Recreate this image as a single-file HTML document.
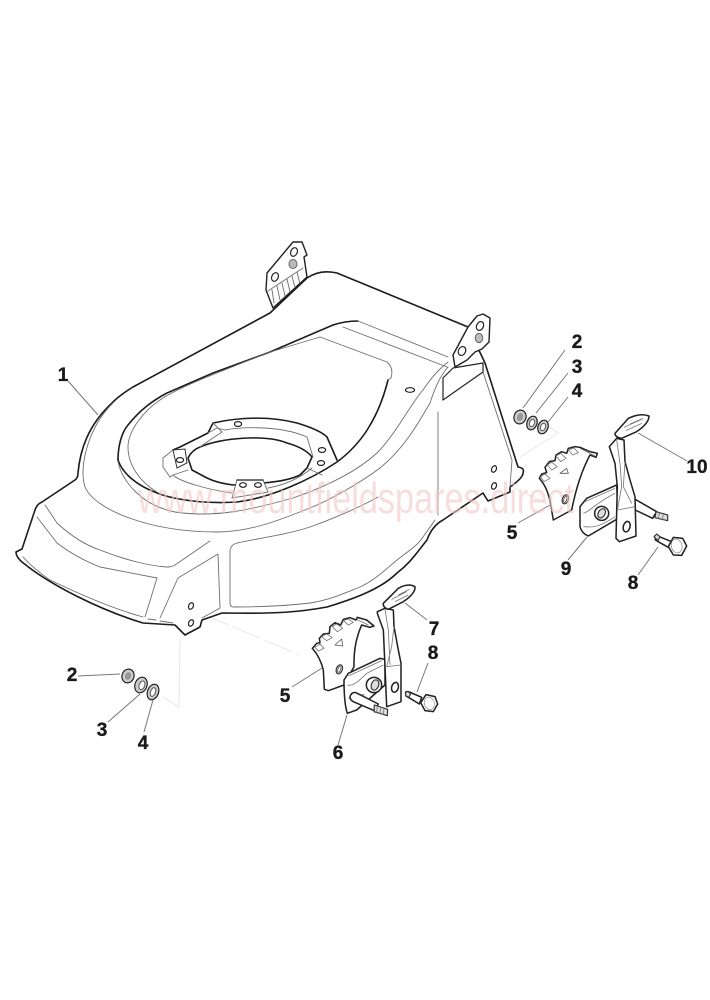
<!DOCTYPE html>
<html><head><meta charset="utf-8"><style>
html,body{margin:0;padding:0;background:#fff;width:710px;height:1000px;overflow:hidden}
svg{display:block}
.art{filter:blur(.35px)}
.k{fill:none;stroke:#1c1c1c;stroke-width:1.6;stroke-linejoin:round;stroke-linecap:round}
.t{fill:none;stroke:#6e6e6e;stroke-width:.9;stroke-linejoin:round;stroke-linecap:round}
.l{fill:none;stroke:#777;stroke-width:1}
.g{fill:none;stroke:#e6e6e6;stroke-width:1}
.p path,.p circle,.p ellipse,.p polygon{stroke:#222;stroke-width:4.6;fill:#fff;stroke-linejoin:round}
.p .i{stroke:#777;stroke-width:2.5;fill:none}
.p .f{fill:#ddd;stroke:#333;stroke-width:3.5}
.n{font:bold 19px "Liberation Sans",sans-serif;fill:#1a1a1a;text-anchor:middle;stroke:#1a1a1a;stroke-width:.35}
.w{fill:#fff;stroke:#222;stroke-width:1.2}
</style></head><body>
<svg width="710" height="1000" viewBox="0 0 710 1000" xmlns="http://www.w3.org/2000/svg">
<rect width="710" height="1000" fill="#fff"/>
<g class="art">
<!-- ghost lines -->
<path class="g" d="M180,637 L179,707 L163,697"/>
<path class="g" stroke-dasharray="30 5" d="M200,613 L300,655"/>
<path class="g" d="M520,457 L558,433 L550,427"/>
<path class="g" stroke-dasharray="25 5" d="M498,480 L560,510"/>

<!-- left rear bracket -->
<path d="M273,308 L266,290 L267,273 L293,242 L302,242 L307,255 L304,257 L307,277 Z" fill="#fff" stroke="#222" stroke-width="1.4" stroke-linejoin="round"/>
<path d="M268,291 L303,268 M272,290 L274,303 M277,286 L280,300 M282,283 L285,296 M287,279 L290,292 M292,276 L295,288 M297,272 L300,284" class="t"/>
<ellipse cx="275" cy="277" rx="3.2" ry="4.5" transform="rotate(25 275 277)" fill="#fff" stroke="#222" stroke-width="1.2"/>
<ellipse cx="294" cy="252" rx="3.2" ry="4.5" transform="rotate(25 294 252)" fill="#fff" stroke="#222" stroke-width="1.2"/>
<ellipse cx="293" cy="264" rx="4" ry="4.5" fill="#bbb" stroke="#666"/>

<!-- deck outline -->
<path class="k" style="fill:#fff" d="M16,552 L22,549 L35,510 Q37,504 42,502 L75,480 Q78,478 78,473 C80,450 88,425 113,402 Q120,395 133,387 L270,313 L307,278 Q320,269 337,273 L468,327 L485,363 L518,467 Q525,468 523,473 Q523,478 510,487 L510,492 L488,501 L483,493 L443,520 Q432,526 427,540 C415,555 410,563 397,573 C380,590 350,600 327,607 C300,612 277,614 222,613 L202,620 L200,627 L185,635 L175,625 L143,623 C100,610 50,585 22,562 Q16,557 16,552 Z"/>

<!-- tray rim -->
<path class="k" d="M118,460 C118,445 122,432 128,425 C140,410 152,401 167,393 L213,373 L270,352 L333,325 Q345,321 358,321"/>
<path class="k" d="M118,460 C122,472 135,485 157,493 C175,500 205,504 237,502 C270,498 310,480 337,462 C360,445 378,420 388,380"/>
<path class="t" d="M358,321 L448,357"/>
<path class="t" d="M343,327 L447,367"/>
<path class="t" d="M320,337 L267,353 L207,377 C185,386 170,393 160,400 C145,410 128,430 128,447 C128,465 140,482 157,492"/>
<path class="t" d="M320,337 L387,362 Q394,368 391,378 L388,380"/>
<path class="t" d="M118,462 C122,480 140,505 175,512 C215,518 250,510 293,498 C325,487 355,473 377,453 C395,435 410,405 423,390 Q435,372 448,362"/>
<path class="t" d="M113,403 C90,425 78,465 85,487 C95,510 150,532 217,532 C250,532 280,520 310,508 C330,500 360,483 380,468 C405,448 420,420 430,403 Q438,378 448,367"/>

<!-- ring -->
<path class="k" d="M173,450 L180,447 L208,433 L213,423 C240,417 270,416 297,423 Q320,430 327,437 L337,460"/>
<path class="t" d="M173,450 L163,458 L163,467 L170,477"/>
<path class="k" d="M188,458 Q192,450 200,447 C220,438 265,434 287,443 Q305,448 312,457 L307,468 L300,475 C290,480 275,482 263,483 L233,485 C225,484 215,482 207,478 L192,470 Z"/>
<path class="t" d="M208,433 L217,428 L225,430 C240,427 280,425 307,437 L313,457"/>
<path class="t" d="M173,475 C180,482 210,490 232,493 M268,488 C285,485 300,478 312,468 M170,477 L173,475 L188,470 M307,468 L322,475 M213,423 L222,432 L210,440 L200,447"/>
<path d="M173,450 L185,449 L187,463 L177,468 Z" fill="#fff" stroke="#333" stroke-width="1"/>
<path d="M237,480 L263,480 L268,492 L232,498 Z" fill="#fff" stroke="#666" stroke-width=".9"/>
<path class="k" d="M237,480 L263,480" style="stroke-width:1.3"/>
<g fill="#fff" stroke="#222" stroke-width="1.2">
<ellipse cx="238" cy="424" rx="3.6" ry="2.4"/>
<ellipse cx="322" cy="450" rx="3.6" ry="2.4"/>
<ellipse cx="321" cy="463" rx="3.6" ry="2.4"/>
<ellipse cx="180" cy="460" rx="3.6" ry="2.4"/>
<ellipse cx="243" cy="485" rx="3.4" ry="2.3"/>
<ellipse cx="258" cy="485" rx="3.4" ry="2.3"/>
<ellipse cx="410" cy="390" rx="4.5" ry="2.3"/>
<ellipse cx="191" cy="606" rx="2.3" ry="3.4" transform="rotate(25 191 606)"/>
<ellipse cx="191" cy="623" rx="2.3" ry="3.4" transform="rotate(25 191 623)"/>
<ellipse cx="494" cy="469" rx="2.3" ry="3.4" transform="rotate(25 494 469)"/>
<ellipse cx="494" cy="486" rx="2.3" ry="3.4" transform="rotate(25 494 486)"/>
</g>

<!-- front panels -->
<path class="t" d="M45,505 L57,523 C70,535 85,545 100,550 C125,560 150,566 167,567 Q172,567 175,565 L210,541"/>
<path class="t" d="M37,517 L57,543 C70,553 85,561 100,567 L157,578 L145,617"/>
<path class="t" d="M23,557 C30,565 40,573 50,580 C75,592 110,608 143,617 M148,619 L156,620 M160,621 L173,623"/>
<path class="t" d="M218,554 L178,578 L160,618 M218,554 L220,608 L202,618"/>
<path class="t" d="M378,497 C360,507 335,518 310,527 C285,535 260,538 237,543 Q230,545 230,552 L230,603 Q230,607 234,607 C260,607 285,606 310,603 C330,600 345,593 360,587 C375,580 385,570 397,560 C410,550 418,545 423,537 L435,520"/>
<path class="t" d="M438,412 L438,515"/>
<path class="t" d="M483,372 L512,460 L510,487"/>

<!-- right rear bracket and plate -->
<path d="M443,378 L453,368 L483,363 L483,372 L443,400 Z" fill="#fff" stroke="#222" stroke-width="1.2" stroke-linejoin="round"/>
<path d="M468,327 L477,316 L483,314 L490,318 L489,342 L482,349 L475,352 L467,360 L455,367 L453,355 Z" fill="#fff" stroke="#222" stroke-width="1.4" stroke-linejoin="round"/>
<ellipse cx="480" cy="326" rx="3.4" ry="4.6" transform="rotate(25 480 326)" fill="#fff" stroke="#222" stroke-width="1.2"/>
<ellipse cx="462" cy="351" rx="3.6" ry="4.6" transform="rotate(25 462 351)" fill="#fff" stroke="#222" stroke-width="1.2"/>
<ellipse cx="479" cy="338" rx="3.8" ry="4.6" fill="#bbb" stroke="#666"/>

<!-- washers left -->
<g transform="rotate(20 128 676)"><ellipse class="w" cx="128" cy="676" rx="6" ry="7" style="fill:#ccc"/><ellipse cx="128" cy="676" rx="3" ry="4" fill="#999"/></g>
<g transform="rotate(20 141 685)"><ellipse class="w" cx="141" cy="685" rx="6" ry="8" style="fill:#ccc"/><ellipse cx="142" cy="685" rx="2.8" ry="4.5" fill="#fff" stroke="#555"/></g>
<g transform="rotate(20 153 692)"><ellipse class="w" cx="153" cy="692" rx="5.5" ry="8" style="fill:#ccc"/><ellipse cx="153" cy="692" rx="2.5" ry="4.5" fill="#fff" stroke="#555"/></g>
<!-- washers right -->
<g transform="rotate(20 520 417)"><ellipse class="w" cx="520" cy="417" rx="6" ry="7" style="fill:#ccc"/><ellipse cx="520" cy="417" rx="3" ry="4" fill="#999"/></g>
<g transform="rotate(20 532 423)"><ellipse class="w" cx="532" cy="423" rx="5" ry="7" style="fill:#ccc"/><ellipse cx="532" cy="423" rx="2.5" ry="3.8" fill="#fff" stroke="#555"/></g>
<g transform="rotate(20 543 427)"><ellipse class="w" cx="543" cy="427" rx="5" ry="7" style="fill:#ccc"/><ellipse cx="543" cy="427" rx="2.5" ry="3.8" fill="#fff" stroke="#555"/></g>

<!-- lower assembly -->
<g class="p" transform="translate(270,570) scale(.33333)">
<path d="M127,235 L140,220 L150,218 L148,205 L160,192 L178,190 L180,170 L195,158 L212,165 L220,148 L240,143 L258,150 L262,142 L290,150 L312,168 L300,172 L275,165 Q250,220 252,290 L222,345 L175,362 L163,358 L160,300 Q150,260 127,235 Z"/>
<path class="i" d="M135,232 L150,222 L162,235 L145,243 Z M155,200 L170,192 L187,203 L170,212 Z M187,170 L200,162 L218,175 L202,185 Z M220,152 L235,147 L250,157 L235,165 Z M260,148 L295,165"/>
<polygon points="195,225 215,207 218,228" style="stroke:#555;stroke-width:2.5"/>
<ellipse cx="208" cy="298" rx="9" ry="14" transform="rotate(20 208 298)" class="f"/>
<ellipse cx="208" cy="298" rx="4" ry="9" transform="rotate(20 208 298)" style="stroke:#333;stroke-width:2"/>
<path d="M222,330 L235,310 L330,265 L345,268 L345,345 L260,420 L232,430 Q222,400 222,330 Z"/>
<path class="i" d="M235,318 L335,272 M232,345 C250,350 270,330 290,310 L340,285 M235,385 C255,385 265,370 285,375"/>
<circle cx="312" cy="345" r="23"/>
<ellipse cx="315" cy="345" rx="11" ry="16" transform="rotate(20 315 345)" class="f"/>
<path d="M240,380 Q245,365 258,368 L325,402 L313,422 L250,395 Q240,390 240,380 Z"/>
<path class="f" d="M313,405 L353,418 L352,437 L312,425 Z"/>
<path class="i" d="M322,408 L320,428 M332,411 L330,431 M342,414 L340,434"/>
<path d="M322,125 L345,115 L370,120 L372,170 L385,240 L393,280 L393,395 L350,410 L345,290 L340,180 L322,130 Z"/>
<path class="i" d="M345,118 L355,180 L360,285 M372,170 L365,230 L350,290 L393,285"/>
<ellipse cx="375" cy="352" rx="10" ry="15" transform="rotate(15 375 352)"/>
<path d="M340,100 L385,55 Q415,38 435,50 Q437,70 400,95 L355,118 Q338,112 340,100 Z"/>
<path class="i" d="M365,88 L410,65 M375,95 L415,75 M385,75 L418,58"/>
<path d="M408,365 L418,366 L455,382 L448,402 L420,385 L408,378 Z"/>
<path class="f" d="M406,368 L414,364 L422,372 L416,382 L408,378 Z"/>
<polygon points="468,374 495,380 503,402 490,425 465,422 452,398"/>
<ellipse cx="478" cy="400" rx="15" ry="19" transform="rotate(-15 478 400)" style="stroke:#888;stroke-width:2"/>
</g>

<!-- right assembly -->
<g class="p" transform="translate(500,330) scale(.33333)">
<path d="M118,445 L125,432 L140,428 L135,412 L148,395 L165,392 L168,375 L185,365 L200,370 L205,355 L225,350 L240,352 L270,365 L292,370 L288,382 L270,375 Q235,440 215,540 L160,570 L152,525 Q145,475 118,445 Z"/>
<path class="i" d="M122,440 L135,432 L150,445 L132,455 Z M142,405 L155,397 L172,410 L155,420 Z M168,378 L182,370 L198,385 L182,395 Z M205,360 L222,354 L235,368 L218,375 Z M240,355 L285,378"/>
<polygon points="180,430 200,415 205,430" style="stroke:#555;stroke-width:2.5"/>
<ellipse cx="196" cy="508" rx="9" ry="14" transform="rotate(20 196 508)" class="f"/>
<ellipse cx="196" cy="508" rx="4" ry="9" transform="rotate(20 196 508)" style="stroke:#333;stroke-width:2"/>
<path d="M400,505 L470,545 L458,565 L395,535 Z"/>
<path class="f" d="M468,545 L503,555 L503,572 L465,563 Z"/>
<path class="i" d="M478,548 L475,568 M490,552 L487,570"/>
<path d="M240,530 L260,505 L350,465 L355,565 L265,618 Q245,610 240,590 Z"/>
<path class="i" d="M255,515 L345,475 M250,550 C270,545 285,520 345,490 M250,590 C270,590 285,600 345,560"/>
<circle cx="305" cy="550" r="21"/>
<ellipse cx="305" cy="550" rx="10" ry="15" transform="rotate(30 305 550)" class="f"/>
<path d="M328,350 L350,325 L372,330 L375,395 L390,450 L405,500 L408,618 L358,635 L348,625 L352,470 L345,400 L328,350 Z"/>
<path class="i" d="M350,330 L360,400 L365,470 L352,540 L405,530 M375,395 L370,470 L395,520"/>
<ellipse cx="380" cy="590" rx="10" ry="16" transform="rotate(15 380 590)"/>
<path d="M345,310 L385,265 Q420,248 447,258 Q447,280 410,305 L365,325 Q345,322 345,310 Z"/>
<path class="i" d="M372,292 L425,268 M378,302 L425,280 M390,282 L430,265"/>
<path d="M466,620 L478,620 L515,635 L510,655 L480,638 L466,630 Z"/>
<path class="f" d="M462,620 L470,612 L480,620 L474,632 Z"/>
<polygon points="520,622 548,625 560,648 545,676 520,675 505,650"/>
<ellipse cx="530" cy="648" rx="16" ry="21" transform="rotate(-15 530 648)" style="stroke:#888;stroke-width:2"/>
</g>

<!-- leaders -->
<path class="l" d="M68,381 L98,415 M78,676 L120,674 M108,722 L140,694 M144,732 L153,700
M292,687 L322,668 M338,745 L347,715 M427,620 L405,603 M417,692 L428,663
M565,350 L523,408 M568,373 L536,413 M568,397 L548,422 M687,461 L638,433 M518,523 L550,505 M568,560 L587,537 M638,575 L658,547"/>
</g>

<!-- watermark -->
<text x="138" y="513" textLength="436" lengthAdjust="spacingAndGlyphs" font-family="'Liberation Sans',sans-serif" font-size="44" fill="#f3c6c6" fill-opacity=".6">www.mountfieldspares.direct</text>

<!-- numbers -->
<text class="n" x="63" y="381">1</text>
<text class="n" x="72" y="681">2</text>
<text class="n" x="102" y="736">3</text>
<text class="n" x="143" y="749">4</text>
<text class="n" x="285" y="702">5</text>
<text class="n" x="338" y="759">6</text>
<text class="n" x="434" y="635">7</text>
<text class="n" x="433" y="659">8</text>
<text class="n" x="633" y="589">8</text>
<text class="n" x="566" y="575">9</text>
<text class="n" x="697" y="473">10</text>
<text class="n" x="512" y="539">5</text>
<text class="n" x="577" y="348">2</text>
<text class="n" x="577" y="373">3</text>
<text class="n" x="577" y="397">4</text>
</svg>
</body></html>
